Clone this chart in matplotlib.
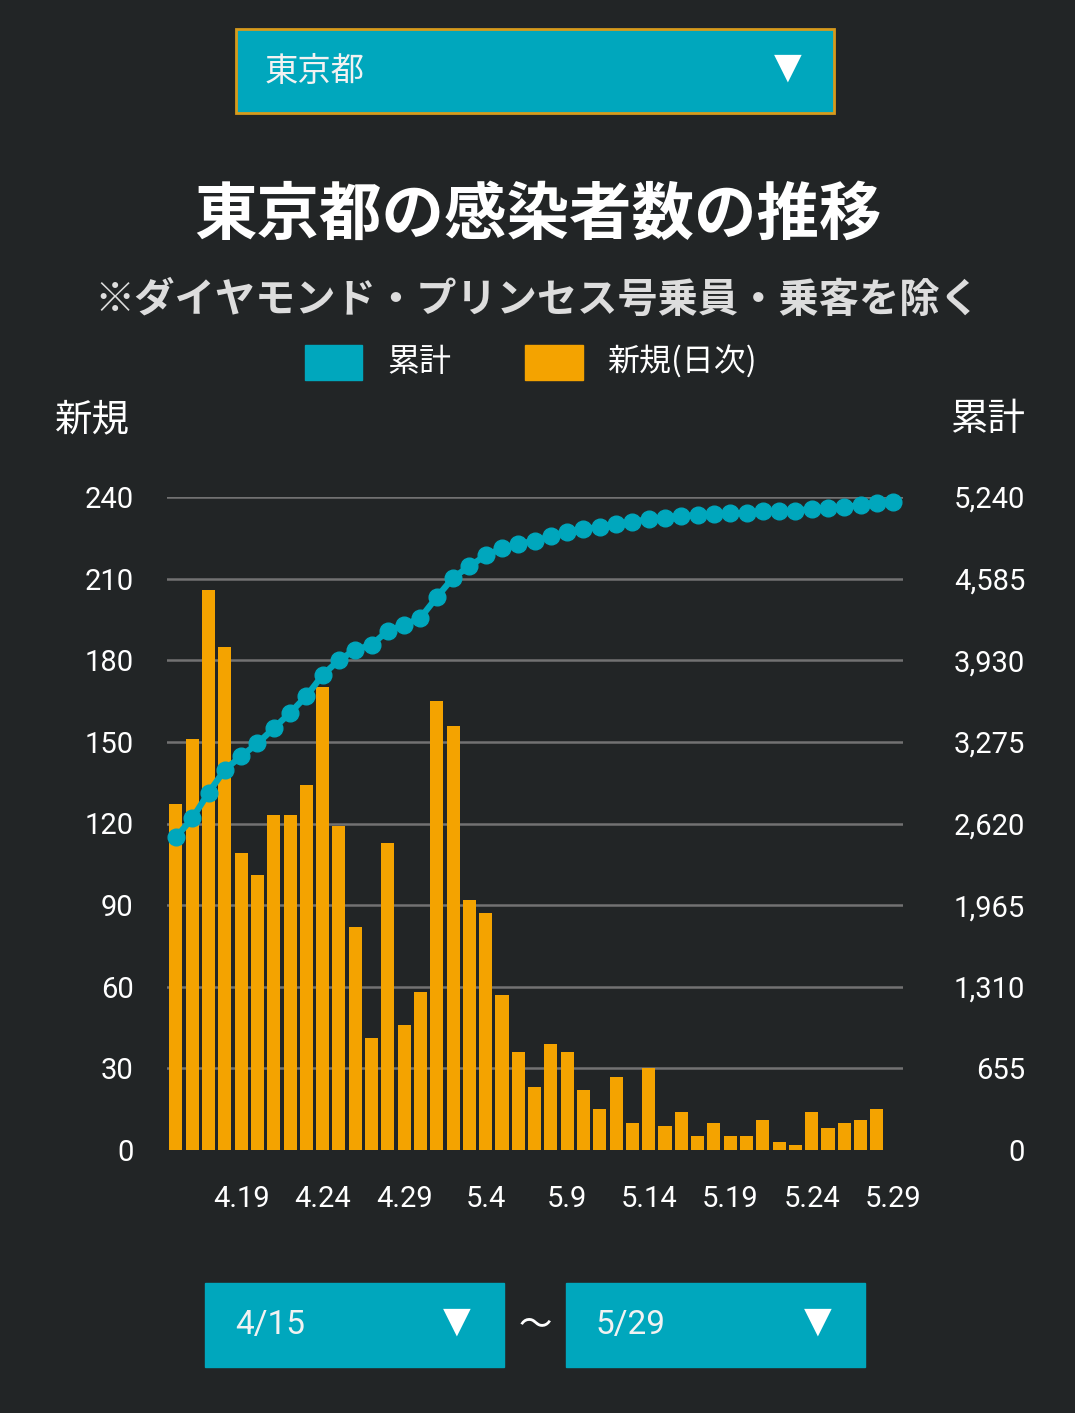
import numpy as np
import pandas as pd
import matplotlib
matplotlib.use("Agg")
import matplotlib.pyplot as plt
from matplotlib.patches import Rectangle

plt.rcParams['font.family'] = ['Noto Sans CJK JP', 'DejaVu Sans']

# data (Tokyo, 4/15 - 5/29)
days = pd.date_range("2020-04-15", "2020-05-29")
new_cases = [127, 151, 206, 185, 109, 101, 123, 123, 134, 170,
             119, 82, 41, 113, 46, 58, 165, 156, 92, 87,
             57, 36, 23, 39, 36, 22, 15, 27, 10, 30,
             9, 14, 5, 10, 5, 5, 11, 3, 2, 14,
             8, 10, 11, 15]
cumulative = [2510, 2661, 2867, 3052, 3161, 3262, 3385, 3508, 3642, 3812,
              3931, 4013, 4054, 4167, 4213, 4271, 4436, 4592, 4684, 4771,
              4828, 4864, 4887, 4926, 4962, 4984, 4999, 5026, 5036, 5066,
              5075, 5089, 5094, 5104, 5109, 5114, 5125, 5128, 5130, 5144,
              5152, 5162, 5173, 5188, 5200]
tick_labels = ["4.19", "4.24", "4.29", "5.4", "5.9", "5.14", "5.19", "5.24", "5.29"]
left_ticks = [0, 30, 60, 90, 120, 150, 180, 210, 240]
right_ticks = [0, 655, 1310, 1965, 2620, 3275, 3930, 4585, 5240]

BG = "#222526"
TEAL = "#00a7bd"
ORANGE = "#f4a300"
GRID = "#727272"
W, H = 1075, 1413


def fx(px):
    return px / W


def fy(py):
    return 1 - py / H


fig = plt.figure(figsize=(W / 100, H / 100), dpi=100, facecolor=BG)

# --- chart ---
ax = fig.add_axes([fx(167), fy(1150), fx(903) - fx(167), fy(497) - fy(1150)])
ax.set_facecolor(BG)
x = np.arange(len(days))
ax.bar(x[:len(new_cases)], new_cases, width=0.8, color=ORANGE, zorder=2)
ax.set_xlim(-0.55, 44.6)
ax.set_ylim(0, 240)
ax.set_yticks(left_ticks)
ax.set_yticklabels([str(v) for v in left_ticks], family="Roboto",
                   fontsize=21, color="white")
for v in left_ticks[1:]:
    ax.axhline(v, color=GRID, lw=1.8, zorder=1)

labels_by_day = [f"{d.month}.{d.day}" for d in days]
tick_pos = [labels_by_day.index(t) for t in tick_labels]
ax.set_xticks(tick_pos)
ax.set_xticklabels(tick_labels, family="Roboto", fontsize=21, color="white")
ax.tick_params(axis="x", length=0, pad=25)
ax.tick_params(axis="y", length=0, pad=24)
for s in ax.spines.values():
    s.set_visible(False)

ax2 = ax.twinx()
ax2.plot(x, cumulative, color=TEAL, lw=4.5, marker="o", markersize=12,
         clip_on=False, zorder=3)
ax2.set_ylim(0, 5240)
ax2.set_yticks(right_ticks)
ax2.set_yticklabels([f"{v:,}" for v in right_ticks], family="Roboto",
                    fontsize=21, color="white", ha="right")
ax2.tick_params(axis="y", length=0, pad=88)
for s in ax2.spines.values():
    s.set_visible(False)

# --- header texts ---
fig.text(0.5, fy(215), "東京都の感染者数の推移", ha="center", va="center",
         fontsize=45, fontweight="bold", color="white")
fig.text(0.5, fy(300), "※ダイヤモンド・プリンセス号乗員・乗客を除く", ha="center", va="center",
         fontsize=29, fontweight="bold", color="#dddddd")

# legend
fig.patches.append(Rectangle((fx(305), fy(380)), fx(362) - fx(305), fy(345) - fy(380),
                             transform=fig.transFigure, color=TEAL))
fig.text(fx(387), fy(362), "累計", va="center", fontsize=23, color="white")
fig.patches.append(Rectangle((fx(525), fy(380)), fx(583) - fx(525), fy(345) - fy(380),
                             transform=fig.transFigure, color=ORANGE))
fig.text(fx(607), fy(362), "新規(日次)", va="center", fontsize=23, color="white")

fig.text(fx(55), fy(420), "新規", va="center", ha="left", fontsize=27, color="white")
fig.text(fx(1025), fy(420), "累計", va="center", ha="right", fontsize=27, color="white")

# dropdown boxes
fig.patches.append(Rectangle((fx(236), fy(113)), fx(834) - fx(236), fy(29) - fy(113),
                             transform=fig.transFigure, facecolor=TEAL,
                             edgecolor="#d79a1c", lw=2))
fig.text(fx(265), fy(72), "東京都", va="center", fontsize=24, color="#f2f2f2")
fig.text(fx(788), fy(68), "▼", va="center", ha="center", fontsize=26, color="white",
         family="DejaVu Sans")

for x0, x1, label in [(205, 504, "4/15"), (566, 865, "5/29")]:
    fig.patches.append(Rectangle((fx(x0), fy(1367)), fx(x1) - fx(x0), fy(1283) - fy(1367),
                                 transform=fig.transFigure, color=TEAL))
    fig.text(fx(x0 + 30), fy(1325), label, va="center", fontsize=24, color="#f2f2f2",
             family="Roboto")
    fig.text(fx(x1 - 47), fy(1322), "▼", va="center", ha="center", fontsize=26,
             color="white", family="DejaVu Sans")
fig.text(fx(535), fy(1325), "〜", va="center", ha="center", fontsize=24, color="white")

fig.savefig("out.png", dpi=100, facecolor=BG)
